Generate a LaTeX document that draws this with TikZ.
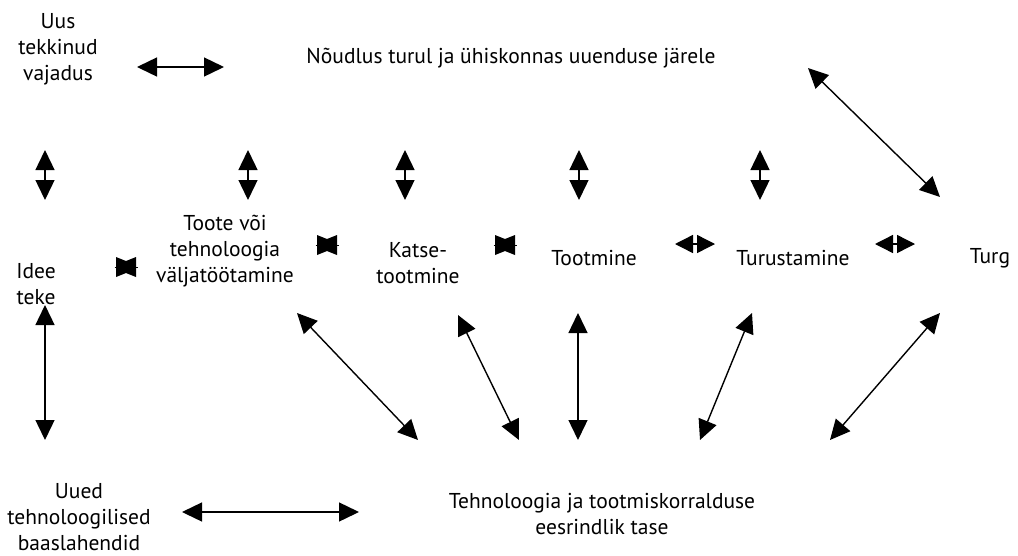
\documentclass[tikz,border=0pt]{standalone}
\usepackage{fontspec}
\setmainfont{PT Sans}
\usetikzlibrary{arrows.meta}
\tikzset{
  lbl/.style={align=center, inner sep=0pt, font=\fontsize{21.5}{26}\selectfont},
  big/.style={line width=1.4pt, {Triangle[length=20pt,width=19pt]}-{Triangle[length=20pt,width=19pt]}},
  mid/.style={line width=1.4pt, {Triangle[length=18pt,width=18pt]}-{Triangle[length=18pt,width=18pt]}},
  bowtie/.style={fill=black}
}
\begin{document}
\begin{tikzpicture}[x=1pt,y=-1pt]
\useasboundingbox (0,0) rectangle (1018,555);
% nodes
\node[lbl] (need) at (58,49) {Uus\\tekkinud\\vajadus};
\node[lbl] (demand) at (511,58) {Nõudlus turul ja ühiskonnas uuenduse järele};
\node[lbl] (idea) at (36,284) {Idee\\teke};
\node[lbl] (dev) at (225,251) {Toote või\\tehnoloogia\\väljatöötamine};
\node[lbl] (pilot) at (418,263) {Katse-\\tootmine};
\node[lbl] (prod) at (594,258) {Tootmine};
\node[lbl] (mark) at (793,258) {Turustamine};
\node[lbl] (market) at (990,258) {Turg};
\node[lbl] (base) at (79,517) {Uued\\tehnoloogilised\\baaslahendid};
\node[lbl] (tech) at (602,514) {Tehnoloogia ja tootmiskorralduse\\eesrindlik tase};
% connector end points
\coordinate (a1) at (137,67);  \coordinate (a2) at (224,67);
\coordinate (b1) at (808,68);  \coordinate (b2) at (940,197);
\coordinate (v1a) at (45,150);  \coordinate (v1b) at (45,200);
\coordinate (v2a) at (248,150); \coordinate (v2b) at (248,200);
\coordinate (v3a) at (405,150); \coordinate (v3b) at (405,200);
\coordinate (v4a) at (579,150); \coordinate (v4b) at (579,200);
\coordinate (v5a) at (760,150); \coordinate (v5b) at (760,200);
\coordinate (t1) at (126,267);
\coordinate (t2) at (327,245);
\coordinate (t3) at (505,245);
\coordinate (m1a) at (675,244); \coordinate (m1b) at (715,244);
\coordinate (m2a) at (875,244); \coordinate (m2b) at (915,244);
\coordinate (l1a) at (45,305);  \coordinate (l1b) at (45,440);
\coordinate (d1a) at (297,313); \coordinate (d1b) at (418,440);
\coordinate (d2a) at (458,315); \coordinate (d2b) at (519,440);
\coordinate (d3a) at (578,313); \coordinate (d3b) at (578,440);
\coordinate (d4a) at (752,313); \coordinate (d4b) at (700,440);
\coordinate (d5a) at (940,313); \coordinate (d5b) at (830,440);
\coordinate (h1a) at (182,512); \coordinate (h1b) at (359,512);
% connectors
\draw[big] (a1) -- (a2);
\draw[big] (b1) -- (b2);
\foreach \i in {1,...,5}{\draw[big] (v\i a) -- (v\i b);}
\foreach \i in {1,2,3}{
  \fill[bowtie, shift={(t\i)}] (-10,-10) -- (0,-6) -- (10,-10) -- (10,10) -- (0,6) -- (-10,10) -- cycle;
  \draw[line width=1pt, shift={(t\i)}] (-11.5,0) -- (11.5,0);
}
\draw[mid] (m1a) -- (m1b);
\draw[mid] (m2a) -- (m2b);
\draw[big] (l1a) -- (l1b);
\foreach \i in {1,...,5}{\draw[big] (d\i a) -- (d\i b);}
\draw[big] (h1a) -- (h1b);
\end{tikzpicture}
\end{document}
